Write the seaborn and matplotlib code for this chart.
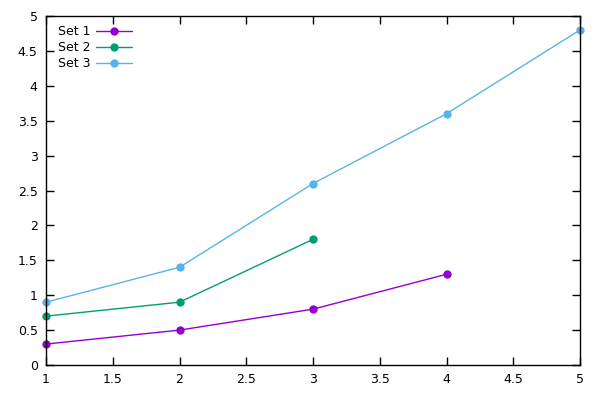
import matplotlib
matplotlib.use("Agg")
import matplotlib.pyplot as plt
import seaborn as sns
import pandas as pd

x1 = [1, 2, 3, 4]
y1 = [0.3, 0.5, 0.8, 1.3]
x2 = [1, 2, 3]
y2 = [0.7, 0.9, 1.8]
x3 = [1, 2, 3, 4, 5]
y3 = [0.9, 1.4, 2.6, 3.6, 4.8]
names = ["Set 1", "Set 2", "Set 3"]
colors = ["#9400d3", "#009e73", "#56b4e9"]

df = pd.concat([
    pd.DataFrame({"x": x1, "y": y1, "set": names[0]}),
    pd.DataFrame({"x": x2, "y": y2, "set": names[1]}),
    pd.DataFrame({"x": x3, "y": y3, "set": names[2]}),
])

sns.set_style("ticks")
plt.rcParams['font.family'] = ['DejaVu Sans']
plt.rcParams['text.color'] = 'black'
fig = plt.figure(figsize=(6, 3.97), dpi=100)
ax = fig.add_axes([46/600, 32/397, 534/600, 349/397])
sns.lineplot(data=df, x="x", y="y", hue="set", palette=colors, marker="o",
             markersize=6, markeredgewidth=0, linewidth=1, ax=ax, sort=False)
ax.set_xlim(1, 5)
ax.set_ylim(0, 5)
ax.set_xticks([1, 1.5, 2, 2.5, 3, 3.5, 4, 4.5, 5])
ax.set_xticklabels(["1", "1.5", "2", "2.5", "3", "3.5", "4", "4.5", "5"])
ax.set_yticks([0, 0.5, 1, 1.5, 2, 2.5, 3, 3.5, 4, 4.5, 5])
ax.set_yticklabels(["0", "0.5", "1", "1.5", "2", "2.5", "3", "3.5", "4", "4.5", "5"])
ax.set_xlabel("")
ax.set_ylabel("")
ax.tick_params(direction="in", length=6, width=1, top=True, right=True,
               labelsize=9, colors="black", pad=6)
for s in ax.spines.values():
    s.set_visible(True)
    s.set_linewidth(1)
    s.set_color("black")
for l in ax.get_lines():
    l.set_clip_on(False)
leg = ax.legend(loc="upper left", bbox_to_anchor=(0, 1.008), frameon=False,
                markerfirst=False, fontsize=9,
                handlelength=2.9, borderaxespad=0.55, labelspacing=0.25,
                handletextpad=0.45)
for t in leg.get_texts():
    t.set_color("black")
fig.savefig("out.png", dpi=100)
